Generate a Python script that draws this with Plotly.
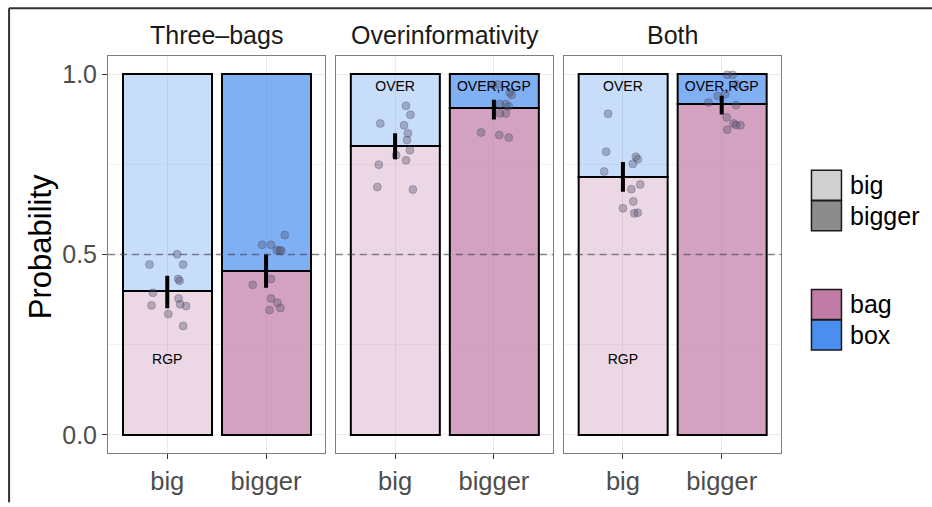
import plotly.graph_objects as go

# ---- data -------------------------------------------------------------
conditions = ["Three–bags", "Overinformativity", "Both"]
sizes = ["big", "bigger"]
size_pos = [1, 2]

# mean probability of a "bag" response (big, bigger)
bag_three = [0.398, 0.453]
bag_over = [0.801, 0.905]
bag_both = [0.714, 0.916]

# 95% interval around the means
ci_low_three = [0.351, 0.408]
ci_high_three = [0.441, 0.500]
ci_low_over = [0.764, 0.874]
ci_high_over = [0.836, 0.929]
ci_low_both = [0.674, 0.888]
ci_high_both = [0.756, 0.940]

# per-subject probabilities and their horizontal jitter
three_big_p = [0.501, 0.472, 0.472, 0.432, 0.427, 0.394, 0.359, 0.335, 0.378, 0.362, 0.357, 0.302]
three_big_j = [0.10, -0.18, 0.16, 0.11, 0.125, -0.145, -0.16, 0.01, 0.115, 0.13, 0.19, 0.16]
three_bigger_p = [0.527, 0.527, 0.554, 0.512, 0.510, 0.512, 0.416, 0.432, 0.378, 0.366, 0.346, 0.352]
three_bigger_j = [-0.04, 0.05, 0.19, 0.11, 0.155, 0.14, -0.135, 0.05, 0.05, 0.115, 0.035, 0.145]
over_big_p = [0.912, 0.887, 0.863, 0.858, 0.836, 0.817, 0.789, 0.775, 0.761, 0.749, 0.687, 0.680]
over_big_j = [0.11, 0.155, -0.15, 0.09, 0.13, 0.12, 0.15, 0.01, 0.11, -0.165, -0.18, 0.18]
over_bigger_p = [0.971, 0.942, 0.949, 0.917, 0.917, 0.910, 0.891, 0.891, 0.838, 0.831, 0.824, 0.970]
over_bigger_j = [0.04, 0.18, 0.16, 0.06, 0.12, 0.15, 0.06, 0.12, -0.13, 0.055, 0.15, -0.01]
both_big_p = [0.890, 0.785, 0.771, 0.764, 0.751, 0.730, 0.694, 0.681, 0.647, 0.628, 0.614, 0.616]
both_big_j = [-0.15, -0.17, 0.13, 0.15, 0.10, -0.19, 0.175, 0.085, 0.105, 0.0, 0.115, 0.15]
both_bigger_p = [0.998, 0.998, 0.971, 0.939, 0.944, 0.921, 0.914, 0.880, 0.863, 0.858, 0.859, 0.846]
both_bigger_j = [0.055, 0.11, 0.145, -0.04, 0.035, -0.135, 0.145, 0.05, 0.12, 0.19, 0.145, 0.055]

# text annotations inside the bars
top_labels = [["", ""], ["OVER", "OVER,RGP"], ["OVER", "OVER,RGP"]]
bottom_labels = [["RGP", ""], ["", ""], ["RGP", ""]]

y_tick_vals = [0.0, 0.5, 1.0]
y_tick_text = ["0.0", "0.5", "1.0"]

panels = [
    dict(bag=bag_three, lo=ci_low_three, hi=ci_high_three,
         pts=[(three_big_p, three_big_j), (three_bigger_p, three_bigger_j)]),
    dict(bag=bag_over, lo=ci_low_over, hi=ci_high_over,
         pts=[(over_big_p, over_big_j), (over_bigger_p, over_bigger_j)]),
    dict(bag=bag_both, lo=ci_low_both, hi=ci_high_both,
         pts=[(both_big_p, both_big_j), (both_bigger_p, both_bigger_j)]),
]

# ---- styling ----------------------------------------------------------
FONT = "Liberation Sans, Arial, Helvetica, sans-serif"
W, H = 932, 507
L, R, T, B = 108, 781.5, 56, 459          # plotting area in pixels
GAP = 10.5
PW = (R - L - 2 * GAP) / 3

BAG_RGB = (193, 123, 165)
BOX_RGB = (74, 143, 240)
ALPHAS = [0.3, 0.7]                        # big, bigger


def rgba(rgb, a):
    return "rgba(%d,%d,%d,%s)" % (rgb[0], rgb[1], rgb[2], a)


def px_x(x):
    return (x - L) / (R - L)


def px_y(y):
    return (B - y) / (B - T)


fig = go.Figure()

for i, p in enumerate(panels):
    xa = "x" if i == 0 else "x%d" % (i + 1)
    ya = "y" if i == 0 else "y%d" % (i + 1)
    box = [1 - v for v in p["bag"]]

    fig.add_trace(go.Bar(
        x=size_pos, y=p["bag"], width=0.9, xaxis=xa, yaxis=ya,
        marker=dict(color=[rgba(BAG_RGB, a) for a in ALPHAS],
                    line=dict(color="black", width=2)),
        showlegend=False, hoverinfo="skip"))
    fig.add_trace(go.Bar(
        x=size_pos, y=box, base=p["bag"], width=0.9, xaxis=xa, yaxis=ya,
        marker=dict(color=[rgba(BOX_RGB, a) for a in ALPHAS],
                    line=dict(color="black", width=2)),
        showlegend=False, hoverinfo="skip"))

    # chance level
    fig.add_trace(go.Scatter(
        x=[0.4, 2.6], y=[0.5, 0.5], mode="lines", xaxis=xa, yaxis=ya,
        line=dict(color="rgba(60,60,80,0.6)", width=1.6, dash="7px,5px"),
        showlegend=False, hoverinfo="skip"))

    # subject points
    for k, (vals, jit) in enumerate(p["pts"]):
        fig.add_trace(go.Scatter(
            x=[size_pos[k] + j for j in jit], y=vals, mode="markers",
            xaxis=xa, yaxis=ya,
            marker=dict(size=8, color="rgba(85,85,110,0.38)",
                        line=dict(color="rgba(60,60,85,0.35)", width=0.8)),
            showlegend=False, hoverinfo="skip"))

    # mean interval
    fig.add_trace(go.Scatter(
        x=size_pos, y=p["bag"], mode="markers", xaxis=xa, yaxis=ya,
        marker=dict(size=1, color="rgba(0,0,0,0)"),
        error_y=dict(type="data", symmetric=False,
                     array=[h - m for h, m in zip(p["hi"], p["bag"])],
                     arrayminus=[m - lo for m, lo in zip(p["bag"], p["lo"])],
                     color="black", thickness=4, width=0),
        showlegend=False, hoverinfo="skip"))

    # labels
    fig.add_trace(go.Scatter(
        x=size_pos, y=[0.962, 0.962], text=top_labels[i], mode="text",
        xaxis=xa, yaxis=ya, textfont=dict(family=FONT, size=14, color="black"),
        showlegend=False, hoverinfo="skip"))
    fig.add_trace(go.Scatter(
        x=size_pos, y=[0.205, 0.205], text=bottom_labels[i], mode="text",
        xaxis=xa, yaxis=ya, textfont=dict(family=FONT, size=14, color="black"),
        showlegend=False, hoverinfo="skip"))

# ---- axes -------------------------------------------------------------
layout = dict(
    width=W, height=H, margin=dict(l=L, r=W - R, t=T, b=H - B, pad=0),
    paper_bgcolor="white", plot_bgcolor="white",
    barmode="overlay", bargap=0, showlegend=False,
    font=dict(family=FONT),
)

for i in range(3):
    x0 = (i * (PW + GAP)) / (R - L)
    x1 = (i * (PW + GAP) + PW) / (R - L)
    key_x = "xaxis" if i == 0 else "xaxis%d" % (i + 1)
    key_y = "yaxis" if i == 0 else "yaxis%d" % (i + 1)
    layout[key_x] = dict(
        domain=[x0, x1], range=[0.4, 2.6], tickvals=size_pos, ticktext=sizes,
        anchor="y" if i == 0 else "y%d" % (i + 1),
        showgrid=True, gridcolor="#ebebeb", gridwidth=1, zeroline=False,
        showline=True, mirror=True, linecolor="#7f7f7f", linewidth=1,
        ticks="outside", ticklen=5, tickcolor="#333333", tickwidth=1,
        ticklabelstandoff=0,
        tickfont=dict(family=FONT, size=25.5, color="#4d4d4d"), fixedrange=True)
    layout[key_y] = dict(
        domain=[0, 1], range=[-0.05, 1.05],
        anchor="x" if i == 0 else "x%d" % (i + 1),
        tickvals=y_tick_vals, ticktext=y_tick_text,
        showticklabels=(i == 0),
        ticks="outside" if i == 0 else "", ticklen=5, tickcolor="#333333",
        tickwidth=1,
        showgrid=True, gridcolor="#ebebeb", gridwidth=1, zeroline=False,
        minor=dict(tickvals=[0.25, 0.75], showgrid=True, gridcolor="#f2f2f2",
                   gridwidth=1, ticks=""),
        showline=True, mirror=True, linecolor="#7f7f7f", linewidth=1,
        tickfont=dict(family=FONT, size=25, color="#4d4d4d"), fixedrange=True)
    if i > 0:
        layout[key_y]["matches"] = "y"

fig.update_layout(**layout)

# facet strip titles
for i, name in enumerate(conditions):
    cx = (i * (PW + GAP) + PW / 2) / (R - L)
    fig.add_annotation(x=cx, y=px_y(35), xref="paper", yref="paper",
                       xanchor="center", yanchor="middle",
                       text=name, showarrow=False,
                       font=dict(family=FONT, size=25, color="#1a1a1a"))

# y axis title
fig.add_annotation(x=px_x(40), y=px_y(250), xref="paper", yref="paper",
                   xanchor="center", yanchor="middle",
                   text="Probability", textangle=-90, showarrow=False,
                   font=dict(family=FONT, size=31, color="black"))

# legends: size (alpha) and response (fill)
legend_items = [
    ("big", rgba((120, 120, 120), 0.35), 172),
    ("bigger", rgba((120, 120, 120), 0.85), 203),
    ("bag", rgba(BAG_RGB, 1), 293),
    ("box", rgba(BOX_RGB, 1), 324),
]
for text, col, top in legend_items:
    fig.add_shape(type="rect", xref="paper", yref="paper",
                  x0=px_x(812), x1=px_x(842), y0=px_y(top + 30.5), y1=px_y(top),
                  fillcolor=col, line=dict(color="#1a1a1a", width=1.5))
    fig.add_annotation(x=px_x(849), y=px_y(top + 15), xref="paper", yref="paper",
                       text=text, showarrow=False,
                       xanchor="left", yanchor="middle",
                       font=dict(family=FONT, size=25, color="black"))

# outer frame
fig.add_shape(type="line", xref="paper", yref="paper",
              x0=px_x(9), x1=px_x(W + 2), y0=px_y(7.5), y1=px_y(7.5),
              line=dict(color="#333333", width=2))
fig.add_shape(type="line", xref="paper", yref="paper",
              x0=px_x(9), x1=px_x(9), y0=px_y(7.5), y1=px_y(H + 2),
              line=dict(color="#333333", width=2))

fig.write_html("out.html")
